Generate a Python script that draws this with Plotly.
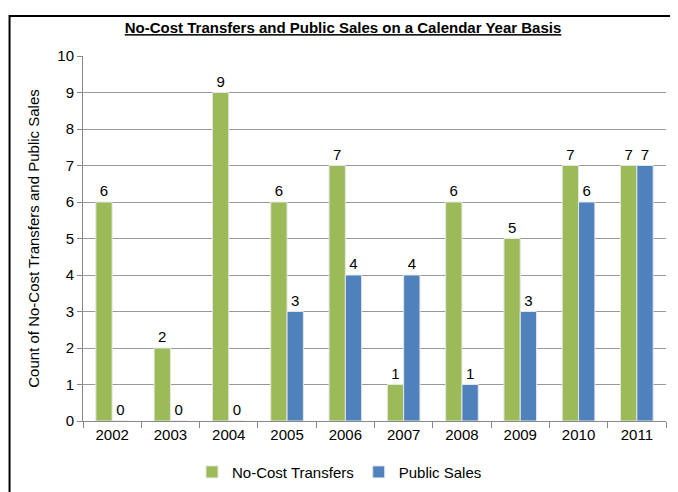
import plotly.graph_objects as go

years = ["2002", "2003", "2004", "2005", "2006", "2007", "2008", "2009", "2010", "2011"]
no_cost_transfers = [6, 2, 9, 6, 7, 1, 6, 5, 7, 7]
public_sales = [0, 0, 0, 3, 4, 4, 1, 3, 6, 7]

FONT = "Liberation Sans Narrow, Arial Narrow, sans-serif"

fig = go.Figure()
fig.add_trace(go.Bar(
    x=years, y=no_cost_transfers, name="No-Cost Transfers",
    marker=dict(color="#9BBB59", line=dict(color="#E6E6E6", width=1)),
    text=no_cost_transfers, textposition="outside", cliponaxis=False,
    textfont=dict(size=15, color="black", family=FONT),
))
fig.add_trace(go.Bar(
    x=years, y=public_sales, name="Public Sales",
    marker=dict(color="#4F81BD", line=dict(color="#E6E6E6", width=1)),
    text=public_sales, textposition="outside", cliponaxis=False,
    textfont=dict(size=15, color="black", family=FONT),
))

fig.update_layout(
    width=670, height=484,
    margin=dict(l=75, r=12, t=48, b=71),
    paper_bgcolor="white", plot_bgcolor="white",
    barmode="group", bargap=0.44, bargroupgap=0.0,
    font=dict(family=FONT, size=15, color="black"),
    title=dict(text="<b><u>No-Cost Transfers and Public Sales on a Calendar Year Basis</u></b>",
               x=0.5, xanchor="center", y=0.959, yanchor="middle",
               font=dict(size=15, family=FONT)),
    showlegend=True,
    legend=dict(orientation="h", x=0.44, xanchor="center",
                yref="container", y=0.041, yanchor="middle",
                font=dict(size=15, family=FONT), traceorder="normal",
                itemwidth=30, tracegroupgap=0),
    xaxis=dict(showline=True, linecolor="#888888", linewidth=1, automargin=False,
               ticks="outside", tickson="boundaries", ticklen=6, tickcolor="#888888",
               tickfont=dict(size=15, family=FONT)),
    yaxis=dict(range=[0, 10], dtick=1, showgrid=True, gridcolor="#999999", gridwidth=1,
               showline=True, linecolor="#888888", linewidth=1, automargin=False,
               ticks="outside", ticklen=5, tickcolor="#888888",
               tickfont=dict(size=15, family=FONT), zeroline=False,
               title=dict(text="Count of No-Cost Transfers and Public Sales",
                          font=dict(size=15, family=FONT), standoff=14)),
)

fig.add_shape(type="rect", xref="paper", yref="paper",
              x0=-0.126, x1=1.0103, y0=-0.25, y1=1.1096,
              line=dict(color="black", width=2), fillcolor="rgba(0,0,0,0)", layer="above")

fig.write_html("out.html")
